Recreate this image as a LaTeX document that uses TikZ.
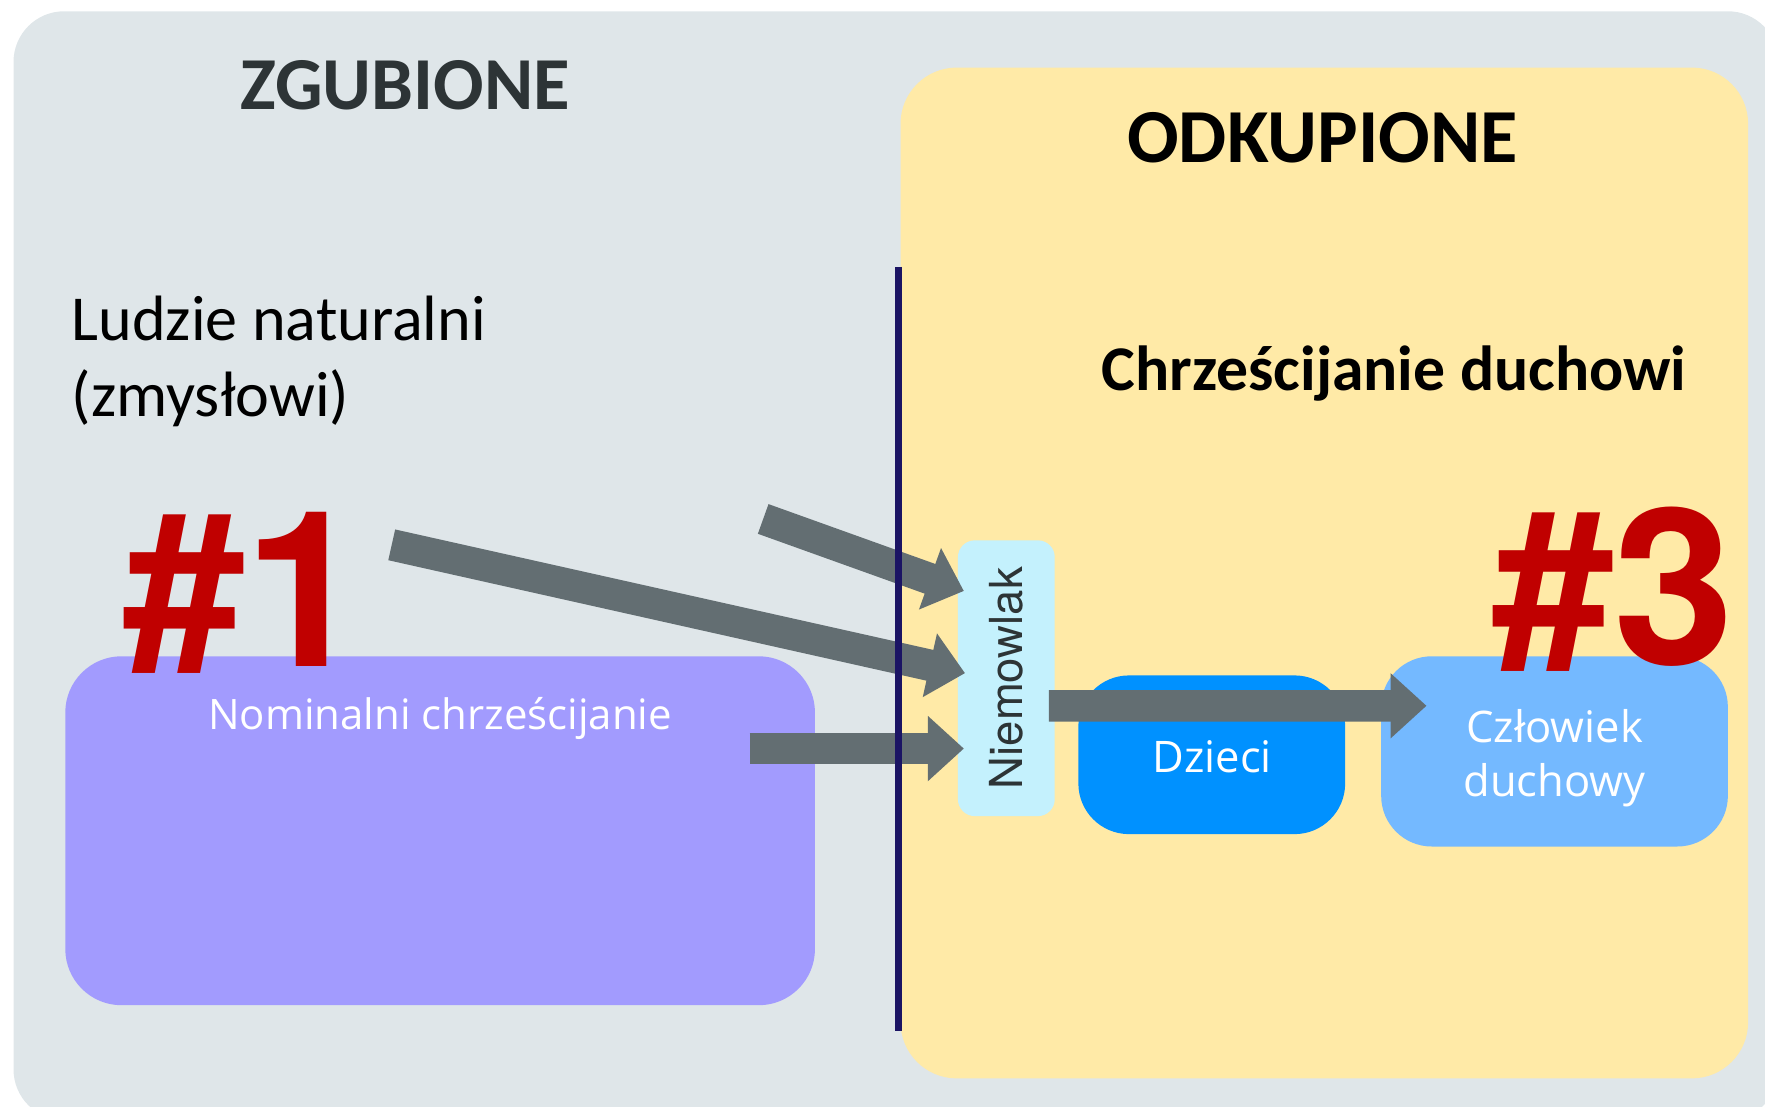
\documentclass[tikz,border=0pt]{standalone}
\usepackage{fontspec}
\setmainfont{Carlito}
\newfontfamily\hashfont{TeX Gyre Heros}
\newfontfamily\labelfont{Open Sans}
\usetikzlibrary{arrows.meta}

\definecolor{lostgray}{HTML}{DFE6E9}
\definecolor{savedyellow}{HTML}{FFEAA7}
\definecolor{nominalpurple}{HTML}{A29BFE}
\definecolor{babycyan}{HTML}{C4F1FD}
\definecolor{childblue}{HTML}{0091FF}
\definecolor{spiritblue}{HTML}{74B9FF}
\definecolor{arrowgray}{HTML}{636E72}
\definecolor{titlegray}{HTML}{2D3436}
\definecolor{dividernavy}{HTML}{1B1464}
\definecolor{hashred}{HTML}{C00000}

\tikzset{
  area/.style={rectangle, inner sep=0pt, draw=none},
  fatarrow/.style={draw=arrowgray, line width=0.28cm,
    -{Triangle[length=0.32cm,width=0.56cm]}},
  whitelabel/.style={text=white, font=\labelfont\fontsize{11pt}{13.7pt}\selectfont, align=center},
  hashmark/.style={anchor=base west, inner sep=0pt, text=hashred, font=\hashfont\bfseries\fontsize{55pt}{60pt}\selectfont},
}

\begin{document}
\begin{tikzpicture}
            \useasboundingbox (0,0) rectangle (15.68,-9.83);
            \node[area, fill=lostgray, rounded corners=0.45cm, minimum width=15.68cm, minimum height=9.85cm] (lost) at (7.96,-5.025) {};
            \node[area, fill=savedyellow, rounded corners=0.5cm, minimum width=7.53cm, minimum height=8.98cm] (saved) at (11.765,-5.09) {};
            \node[area, fill=nominalpurple, rounded corners=0.5cm, minimum width=6.66cm, minimum height=3.10cm] (nominal) at (3.91,-7.38) {};
            \node[area, fill=babycyan, rounded corners=0.15cm, minimum width=0.86cm, minimum height=2.45cm] (baby) at (8.94,-6.025) {};
            \node[area, fill=childblue, rounded corners=0.45cm, minimum width=2.37cm, minimum height=1.41cm] (child) at (10.765,-6.705) {};
            \node[area, fill=spiritblue, rounded corners=0.45cm, minimum width=3.08cm, minimum height=1.69cm] (spirit) at (13.81,-6.675) {};
            \node[anchor=base, text=titlegray, font=\bfseries\fontsize{18.9pt}{22pt}\selectfont] (lostlabel) at (3.60,-0.97) {ZGUBIONE};
            \node[anchor=base, font=\bfseries\fontsize{19.3pt}{22pt}\selectfont] (savedlabel) at (11.75,-1.44) {ODKUPIONE};
            \node[anchor=base west, inner sep=0pt, align=left, font=\fontsize{16.2pt}{19.3pt}\selectfont] (natural) at (0.63,-3.70) {Ludzie naturalni\\(zmysłowi)};
            \node[anchor=base west, inner sep=0pt, font=\bfseries\fontsize{16.1pt}{20pt}\selectfont] (spiritual) at (9.78,-3.47) {Chrześcijanie duchowi};
            \node[anchor=base, whitelabel, font=\labelfont\fontsize{10.6pt}{13pt}\selectfont] at (3.91,-6.48) {Nominalni chrześcijanie};
            \node[rotate=90, text=titlegray, font=\hashfont\fontsize{11.5pt}{14pt}\selectfont] at (baby) {Niemowlak};
            \node[whitelabel, anchor=base] at (10.77,-6.86) {Dzieci};
            \node[whitelabel, anchor=base] at (13.81,-7.08) {Człowiek\\duchowy};
            \coordinate (tail1) at (6.78,-4.61);
            \coordinate (tail2) at (3.48,-4.84);
            \coordinate (tail3) at (6.66,-6.65);
            \draw[fatarrow] (tail1) -- ([xshift=0.06cm, yshift=0.775cm]baby.west);
            \draw[fatarrow] (tail2) -- ([xshift=0.07cm, yshift=0.045cm]baby.west);
            \draw[fatarrow] (tail3) -- ([xshift=0.06cm, yshift=-0.625cm]baby.west);
            \draw[fatarrow] ([xshift=-0.06cm, yshift=-0.245cm]baby.east) -- ([xshift=0.41cm, yshift=0.405cm]spirit.west);
            \coordinate (divtop) at (7.98,-2.37);
            \coordinate (divbot) at (7.98,-9.16);
            \draw[dividernavy, line width=0.06cm] (divtop) -- (divbot);
            \node[hashmark] (one) at (1.09,-5.92) {\#1};
            \node[hashmark] (three) at (13.25,-5.90) {\#3};
        \end{tikzpicture}
\end{document}
